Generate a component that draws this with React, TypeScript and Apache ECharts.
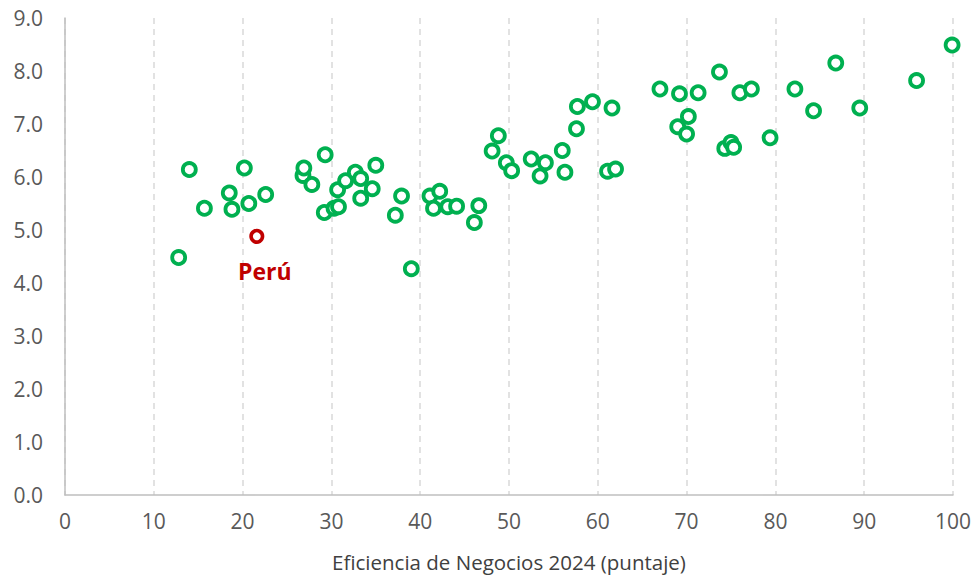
import React, { useEffect, useRef } from "react";
import * as echarts from "echarts";

const efficiency: number[] = [
  12.8, 14.0, 15.7, 18.5, 18.8, 20.2, 20.7, 22.6, 26.8, 26.9, 27.8, 29.3, 29.2,
  30.3, 30.8, 30.7, 31.6, 32.7, 33.3, 33.3, 34.6, 35.0, 37.2, 37.9, 39.0, 41.1,
  41.5, 42.2, 43.1, 44.1, 46.6, 46.1, 48.1, 48.8, 49.7, 50.3, 52.5, 53.5, 54.1,
  56.0, 56.3, 57.6, 57.7, 59.4, 61.6, 61.1, 62.0, 67.0, 69.2, 71.3, 73.7, 69.0,
  70.2, 70.0, 74.3, 75.0, 75.3, 76.0, 77.3, 79.4, 82.2, 84.3, 86.8, 89.5, 95.9,
  99.9,
];
const indicator: number[] = [
  4.48, 6.14, 5.41, 5.70, 5.39, 6.17, 5.50, 5.67, 6.03, 6.17, 5.86, 6.42, 5.33,
  5.41, 5.44, 5.76, 5.93, 6.09, 5.97, 5.60, 5.78, 6.22, 5.28, 5.64, 4.27, 5.64,
  5.41, 5.73, 5.44, 5.45, 5.46, 5.14, 6.49, 6.78, 6.27, 6.12, 6.34, 6.02, 6.27,
  6.50, 6.09, 6.91, 7.33, 7.42, 7.30, 6.11, 6.15, 7.66, 7.57, 7.59, 7.98, 6.95,
  7.14, 6.81, 6.54, 6.65, 6.56, 7.59, 7.66, 6.74, 7.66, 7.25, 8.15, 7.30, 7.82,
  8.49,
];
const peruName = "Perú";
const peruPoint: [number, number] = [21.6, 4.88];

const xTitle = "Eficiencia de Negocios 2024 (puntaje)";

export default function App() {
  const ref = useRef<HTMLDivElement>(null);
  useEffect(() => {
    if (!ref.current) return;
    const chart = echarts.init(ref.current, undefined, { renderer: "svg" });
    const font = "'Open Sans', sans-serif";
    chart.setOption({
      animation: false,
      backgroundColor: "#ffffff",
      textStyle: { fontFamily: font },
      grid: { left: 65, right: 19, top: 18, bottom: 80, containLabel: false },
      xAxis: {
        type: "value",
        min: 0,
        max: 100,
        interval: 10,
        name: xTitle,
        nameLocation: "middle",
        nameGap: 56,
        nameTextStyle: { fontSize: 20.5, color: "#404040", fontFamily: font },
        axisLine: { show: true, onZero: false, lineStyle: { color: "#bfbfbf", width: 1.5 } },
        axisTick: { show: false },
        axisLabel: { fontSize: 21, color: "#595959", margin: 15, fontFamily: font },
        splitLine: { show: true, lineStyle: { color: "#d9d9d9", width: 1.5, type: [6, 5] } },
      },
      yAxis: {
        type: "value",
        min: 0,
        max: 9,
        interval: 1,
        axisLine: { show: true, lineStyle: { color: "#bfbfbf", width: 1.5 } },
        axisTick: { show: false },
        axisLabel: {
          fontSize: 21,
          color: "#595959",
          margin: 22,
          fontFamily: font,
          formatter: (v: number) => v.toFixed(1),
        },
        splitLine: { show: false },
      },
      series: [
        {
          type: "scatter",
          symbol: "circle",
          symbolSize: 13,
          itemStyle: { color: "#ffffff", borderColor: "#00b050", borderWidth: 3.8, opacity: 1 },
          data: efficiency.map((x, i) => [x, indicator[i]]),
          z: 2,
        },
        {
          type: "scatter",
          symbol: "circle",
          symbolSize: 11.5,
          itemStyle: { color: "#ffffff", borderColor: "#c00000", borderWidth: 3.6, opacity: 1 },
          data: [peruPoint],
          label: {
            show: true,
            position: "bottom",
            distance: 16,
            offset: [8, 0],
            formatter: peruName,
            color: "#c00000",
            fontWeight: "bold",
            fontSize: 23,
            fontFamily: font,
          },
          z: 3,
        },
      ],
    });
    return () => chart.dispose();
  }, []);
  return <div ref={ref} style={{ width: 974, height: 577, position: "absolute", left: 0, top: 0 }} />;
}
